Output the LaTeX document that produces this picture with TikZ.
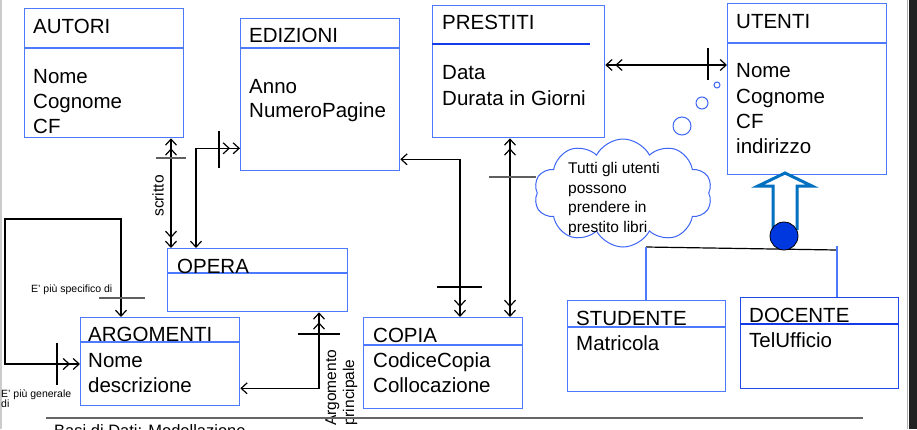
\documentclass[tikz,border=0pt]{standalone}
\usepackage{fontspec}
\setmainfont{Liberation Sans}
\usetikzlibrary{arrows.meta,shapes.symbols,calc}
\definecolor{boxblue}{RGB}{77,121,255}
\definecolor{darkblue}{RGB}{20,60,230}
\definecolor{isablue}{RGB}{0,112,192}
\definecolor{isafill}{RGB}{0,56,224}
\definecolor{bargrey}{RGB}{95,95,95}
\definecolor{cloudblue}{RGB}{60,100,245}
\newcommand{\ttlfont}{\fontsize{20.5}{25}\selectfont}
\newcommand{\cloudfont}{\fontsize{15.5}{19}\selectfont}
\newcommand{\lblfont}{\fontsize{15.5}{18}\selectfont}
\newcommand{\smallfont}{\fontsize{10.5}{12}\selectfont}
\tikzset{
  barb/.tip={Straight Barb[length=6pt,width=11pt]},
  dbarb/.tip={Straight Barb[length=6pt,width=11pt,sep=2.5pt]Straight Barb[length=6pt,width=11pt]},
  entity/.style={draw=boxblue, line width=1.3pt, inner sep=0pt, anchor=north west, rectangle},
  hdr/.style={draw=boxblue, line width=1.3pt},
  hdrdark/.style={draw=darkblue, line width=1.3pt},
  ttl/.style={anchor=base west, inner sep=0pt, font=\ttlfont},
  conn/.style={draw=black, line width=1.2pt},
  greybar/.style={draw=bargrey, line width=1.8pt},
  blackbar/.style={draw=black, line width=1.2pt},
  cloudtxt/.style={anchor=base west, inner sep=0pt, font=\cloudfont},
  smalltxt/.style={anchor=base west, inner sep=0pt, font=\smallfont},
  bubble/.style={circle, draw=cloudblue, line width=1pt, inner sep=0pt}
}
\begin{document}
\begin{tikzpicture}[x=1pt,y=-1pt]
\useasboundingbox (0,0) rectangle (917,429);
\clip (0,0) rectangle (917,429);
\fill[white] (0,0) rectangle (917,429);
\draw[black!20, line width=1.5pt] (0.75,0) -- (0.75,429);
\fill[black!87] (909,0) rectangle (917,429);
\draw[black!30, line width=1pt] (907,0) -- (907,429);

% ---------- entities ----------
\node[entity, minimum width=159pt, minimum height=129pt] (autori) at (24,8) {};
\draw[hdr] ([yshift=-40pt]autori.north west) -- ([yshift=-40pt]autori.north east);
\node[ttl] (autoriT) at (33,33) {AUTORI};
\node[ttl] (autoriA1) at (33,83) {Nome};
\node[ttl] (autoriA2) at (33,108) {Cognome};
\node[ttl] (autoriA3) at (33,133) {CF};

\node[entity, minimum width=159pt, minimum height=152pt] (edizioni) at (240,18) {};
\draw[hdr] ([yshift=-30pt]edizioni.north west) -- ([yshift=-30pt]edizioni.north east);
\node[ttl] (edizioniT) at (249,42) {EDIZIONI};
\node[ttl] (edizioniA1) at (249,93) {Anno};
\node[ttl] (edizioniA2) at (249,117) {NumeroPagine};

\node[entity, minimum width=172pt, minimum height=132pt] (prestiti) at (432,5) {};
\draw[hdrdark] ([yshift=-39pt]prestiti.north west) -- ([yshift=-39pt,xshift=158pt]prestiti.north west);
\node[ttl] (prestitiT) at (442,29) {PRESTITI};
\node[ttl] (prestitiA1) at (442,79) {Data};
\node[ttl] (prestitiA2) at (442,105) {Durata in Giorni};

\node[entity, minimum width=159pt, minimum height=171pt] (utenti) at (727,3) {};
\draw[hdr] ([yshift=-40pt]utenti.north west) -- ([yshift=-40pt]utenti.north east);
\node[ttl] (utentiT) at (736,28) {UTENTI};
\node[ttl] (utentiA1) at (736,77) {Nome};
\node[ttl] (utentiA2) at (736,103) {Cognome};
\node[ttl] (utentiA3) at (736,128) {CF};
\node[ttl] (utentiA4) at (736,153) {indirizzo};

\node[entity, minimum width=180pt, minimum height=63pt] (opera) at (167,248) {};
\draw[hdr] ([yshift=-25pt]opera.north west) -- ([yshift=-25pt]opera.north east);
\node[ttl] (operaT) at (177,273) {OPERA};

\node[entity, minimum width=159pt, minimum height=88pt] (argomenti) at (80,317) {};
\draw[hdr] ([yshift=-25pt]argomenti.north west) -- ([yshift=-25pt]argomenti.north east);
\node[ttl] (argomentiT) at (88,341) {ARGOMENTI};
\node[ttl] (argomentiA1) at (88,367) {Nome};
\node[ttl] (argomentiA2) at (88,392) {descrizione};

\node[entity, minimum width=159pt, minimum height=91pt] (copia) at (363,317) {};
\draw[hdr] ([yshift=-28pt]copia.north west) -- ([yshift=-28pt]copia.north east);
\node[ttl] (copiaT) at (373,342) {COPIA};
\node[ttl] (copiaA1) at (373,367) {CodiceCopia};
\node[ttl] (copiaA2) at (373,392) {Collocazione};

\node[entity, minimum width=158pt, minimum height=91pt] (studente) at (567,300) {};
\draw[hdr] ([yshift=-27pt]studente.north west) -- ([yshift=-27pt]studente.north east);
\node[ttl] (studenteT) at (576,325) {STUDENTE};
\node[ttl] (studenteA1) at (576,350) {Matricola};

\node[entity, minimum width=158pt, minimum height=91pt, draw=darkblue!80!boxblue] (docente) at (740,297) {};
\draw[hdrdark] ([yshift=-27pt]docente.north west) -- ([yshift=-27pt]docente.north east);
\node[ttl] (docenteT) at (749,322) {DOCENTE};
\node[ttl] (docenteA1) at (749,347) {TelUfficio};

% ---------- connectors ----------
% scritto
\draw[conn, dbarb-dbarb] ([xshift=147pt]autori.south west) -- ([xshift=4pt]opera.north west);
\draw[greybar] (156,158) -- (186,158);
\node[rotate=90, inner sep=0pt, font=\lblfont] (scrittoL) at (158,196) {scritto};

% EDIZIONI - OPERA
\draw[conn, barb-dbarb] ([xshift=29pt]opera.north west) |- ([yshift=23pt]edizioni.south west);
\draw[blackbar] (219,131) -- (219,168);

% EDIZIONI - COPIA
\draw[conn, barb-dbarb] ([yshift=12pt]edizioni.south east) -| ([xshift=97pt]copia.north west);
\draw[blackbar] (437,287) -- (482,287);

% PRESTITI - COPIA
\draw[conn, dbarb-dbarb] ([xshift=78pt]prestiti.south west) -- ([xshift=147pt]copia.north west);
\draw[greybar] (489,177) -- (536,177);

% PRESTITI - UTENTI
\draw[conn, dbarb-barb] ([yshift=-60pt]prestiti.north east) -- ([yshift=-60pt]prestiti.north east -| utenti.west);
\draw[blackbar] (708,48) -- (708,80);

% OPERA - ARGOMENTI
\draw[conn, dbarb-barb] ([xshift=152pt]opera.south west) |- ([yshift=18pt]argomenti.south east);
\draw[blackbar] (298,334) -- (340,334);
\node[rotate=90, anchor=base west, inner sep=0pt, font=\lblfont] (argL1) at (336,426) {Argomento};
\node[rotate=90, anchor=base west, inner sep=0pt, font=\lblfont] (argL2) at (354,426) {principale};

% ARGOMENTI self loop
\draw[conn, barb-dbarb] ([xshift=41pt]argomenti.north west) -- ++(0,-98) -- ++(-116,0) |- ([yshift=-47pt]argomenti.north west);
\draw[greybar] (99,298) -- (145,298);
\draw[blackbar] (57,343) -- (57,385);
\node[smalltxt] (specL) at (31,292) {E’ più specifico di};
\node[smalltxt] (genL1) at (1,397) {E’ più generale};
\node[smalltxt] (genL2) at (1,407) {di};

% ---------- cloud ----------
\node[cloud, draw=cloudblue, line width=1pt, cloud puffs=10, cloud puff arc=125, aspect=1.63, minimum width=178pt, minimum height=108pt, inner sep=0pt] (nuvola) at (623,193) {};
\node[bubble, minimum size=6pt] (bolla1) at (717,85) {};
\node[bubble, minimum size=12pt] (bolla2) at (702,103) {};
\node[bubble, minimum size=18pt] (bolla3) at (682,126) {};
\node[cloudtxt] (nuvT1) at (568,173) {Tutti gli utenti};
\node[cloudtxt] (nuvT2) at (568,193) {possono};
\node[cloudtxt] (nuvT3) at (568,212) {prendere in};
\node[cloudtxt] (nuvT4) at (568,232) {prestito libri};

% ---------- generalisation ----------
\coordinate (jl) at (646,247);
\coordinate (jr) at (837,250);
\coordinate (jrtop) at (837,246);
\draw[isablue, line width=3pt, line join=miter] (773,230) -- (773,186) -- (758,186) -- (785,173) -- (812,186) -- (797,186) -- (797,230);
\draw[black, line width=1.2pt] (jl) -- (jr);
\draw[boxblue, line width=1.3pt] (jl) -- (jl |- studente.north);
\draw[boxblue, line width=1.3pt] (jrtop) -- (jrtop |- docente.north);
\node[circle, draw=black, fill=isafill, line width=0.8pt, minimum size=28pt, inner sep=0pt] (isa) at (784,236) {};

% ---------- footer ----------
\draw[black!60, line width=2pt] (46,418) -- (863,418);
\node[anchor=base west, inner sep=0pt, font=\fontsize{16.5}{18}\selectfont] (footer) at (54,436) {Basi di Dati: Modellazione};
\end{tikzpicture}
\end{document}
